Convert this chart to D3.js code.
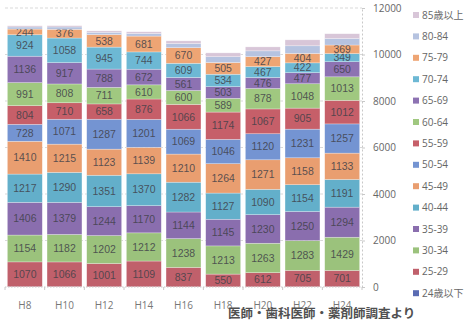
<!DOCTYPE html>
<html>
<head>
<meta charset="utf-8">
<script src="https://cdn.jsdelivr.net/npm/d3@7"></script>
<style>
  body { margin: 0; background: #fff; }
  svg { display: block; font-family: "Liberation Sans", "Noto Sans CJK JP", sans-serif; }
</style>
</head>
<body>
<svg></svg>
<script>
// years (categories)
let years = ['H8', 'H10', 'H12', 'H14', 'H16', 'H18', 'H20', 'H22', 'H24'];

// counts per age group, bottom of the stack first
let age24under = [10, 12, 8, 8, 6, 5, 6, 8, 10];
let age25_29 = [1070, 1066, 1001, 1109, 837, 550, 612, 705, 701];
let age30_34 = [1154, 1182, 1202, 1212, 1238, 1213, 1263, 1283, 1429];
let age35_39 = [1406, 1379, 1244, 1170, 1144, 1145, 1230, 1250, 1294];
let age40_44 = [1217, 1290, 1351, 1370, 1282, 1127, 1090, 1154, 1191];
let age45_49 = [1410, 1215, 1123, 1139, 1210, 1264, 1271, 1158, 1133];
let age50_54 = [728, 1071, 1287, 1201, 1069, 1046, 1120, 1231, 1257];
let age55_59 = [804, 710, 658, 876, 1066, 1174, 1067, 905, 1012];
let age60_64 = [991, 808, 711, 610, 600, 589, 878, 1048, 1013];
let age65_69 = [1136, 917, 788, 672, 561, 503, 476, 477, 650];
let age70_74 = [924, 1058, 945, 744, 609, 534, 467, 422, 349];
let age75_79 = [244, 376, 538, 681, 670, 505, 427, 404, 369];
let age80_84 = [90, 100, 100, 110, 180, 250, 250, 330, 280];
let age85over = [50, 55, 60, 75, 115, 165, 170, 255, 205];

let groups = ['24歳以下', '25-29', '30-34', '35-39', '40-44', '45-49', '50-54',
              '55-59', '60-64', '65-69', '70-74', '75-79', '80-84', '85歳以上'];
let groupValues = [age24under, age25_29, age30_34, age35_39, age40_44, age45_49, age50_54,
                   age55_59, age60_64, age65_69, age70_74, age75_79, age80_84, age85over];
// groups that carry a number label on the bar
let labelled = ['25-29', '30-34', '35-39', '40-44', '45-49', '50-54',
                '55-59', '60-64', '65-69', '70-74', '75-79'];

let yTicks = [0, 2000, 4000, 6000, 8000, 10000, 12000];

let colors = ['#5a6bb3', '#c0606b', '#9bc27c', '#8a6eae', '#63afca', '#e99e70', '#7494d2',
              '#c65f69', '#a0c880', '#8d72b2', '#6db8d4', '#eea574', '#b6c3e0', '#d8c6d8'];

let width = 466;
let height = 323;

let svg = d3.select('svg')
    .attr('width', width)
    .attr('height', height);

// one row per year for d3.stack
let rows = years.map((y, i) => {
    let row = {year: y};
    groups.forEach((g, j) => row[g] = groupValues[j][i]);
    return row;
});

let x = d3.scaleBand()
    .domain(years)
    .range([5, 362])
    .paddingInner(0.12)
    .paddingOuter(0.06);

let y = d3.scaleLinear()
    .domain([0, 12000])
    .range([287, 8]);

let color = d3.scaleOrdinal().domain(groups).range(colors);

// gridlines
svg.append('g')
    .selectAll('line')
    .data(yTicks.filter(d => d > 0))
    .enter()
    .append('line')
    .attr('x1', 5)
    .attr('x2', 362)
    .attr('y1', d => y(d))
    .attr('y2', d => y(d))
    .attr('stroke', '#cfcfcf')
    .attr('stroke-width', 0.8)
    .attr('stroke-dasharray', '3,2');

let stacked = d3.stack().keys(groups)(rows);

let layer = svg.append('g')
    .selectAll('g.layer')
    .data(stacked)
    .enter()
    .append('g')
    .classed('layer', true)
    .attr('fill', d => color(d.key));

layer.selectAll('rect')
    .data(d => d)
    .enter()
    .append('rect')
    .attr('x', d => x(d.data.year))
    .attr('width', x.bandwidth())
    .attr('y', d => y(d[1]))
    .attr('height', d => y(d[0]) - y(d[1]))
    .attr('stroke', '#ffffff')
    .attr('stroke-opacity', 0.45)
    .attr('stroke-width', 0.6);

// value labels
layer.filter(d => labelled.includes(d.key))
    .selectAll('text')
    .data(d => d.map(v => ({v: v, key: d.key})))
    .enter()
    .append('text')
    .attr('x', d => x(d.v.data.year) + x.bandwidth() / 2)
    .attr('y', d => (y(d.v[0]) + y(d.v[1])) / 2)
    .attr('dy', '0.35em')
    .attr('text-anchor', 'middle')
    .attr('font-size', 10.5)
    .attr('fill', '#404048')
    .attr('fill-opacity', 0.85)
    .text(d => d.v.data[d.key]);

// baseline
svg.append('line')
    .attr('x1', 5)
    .attr('x2', 362)
    .attr('y1', y(0))
    .attr('y2', y(0))
    .attr('stroke', '#c8c8c8')
    .attr('stroke-dasharray', '1.5,1.5');

// category ticks between bars
svg.append('g')
    .selectAll('line')
    .data(d3.range(years.length + 1))
    .enter()
    .append('line')
    .attr('x1', i => 5 + i * x.step())
    .attr('x2', i => 5 + i * x.step())
    .attr('y1', y(0))
    .attr('y2', y(0) + 3)
    .attr('stroke', '#c8c8c8');

// right value axis
let yAxis = svg.append('g')
    .attr('transform', 'translate(362,0)')
    .call(d3.axisRight(y).tickValues(yTicks).tickFormat(d3.format('d'))
        .tickSize(3).tickSizeOuter(0).tickPadding(8));
yAxis.select('.domain')
    .attr('stroke', '#c8c8c8')
    .attr('stroke-dasharray', '2,2');
yAxis.selectAll('.tick line').attr('stroke', '#c8c8c8');
yAxis.selectAll('.tick text')
    .attr('font-size', 10)
    .attr('fill', '#666')
    .attr('font-family', '"Open Sans", sans-serif');

// category labels
svg.append('g')
    .selectAll('text')
    .data(years)
    .enter()
    .append('text')
    .attr('x', d => x(d) + x.bandwidth() / 2)
    .attr('y', 305)
    .attr('dy', '0.35em')
    .attr('text-anchor', 'middle')
    .attr('font-size', 10)
    .attr('fill', '#777')
    .attr('font-family', '"Open Sans", sans-serif')
    .text(d => d);

// legend, top entry is the last group
let legend = svg.append('g')
    .selectAll('g')
    .data(groups.slice().reverse())
    .enter()
    .append('g')
    .attr('transform', (d, i) => `translate(413, ${15 + i * 21.4})`);

legend.append('rect')
    .attr('x', 0)
    .attr('y', -3)
    .attr('width', 6)
    .attr('height', 6)
    .attr('fill', d => color(d));

legend.append('text')
    .attr('x', 9)
    .attr('dy', '0.35em')
    .attr('font-size', 10)
    .attr('fill', '#666')
    .attr('font-family', '"Open Sans", "Noto Sans CJK JP", sans-serif')
    .text(d => d);

// source note
svg.append('text')
    .attr('x', 228)
    .attr('y', 314)
    .attr('dy', '0.35em')
    .attr('font-size', 12.5)
    .attr('font-weight', 700)
    .attr('fill', '#505050')
    .attr('font-family', '"Noto Sans CJK JP", sans-serif')
    .text('医師・歯科医師・薬剤師調査より');
</script>
</body>
</html>
